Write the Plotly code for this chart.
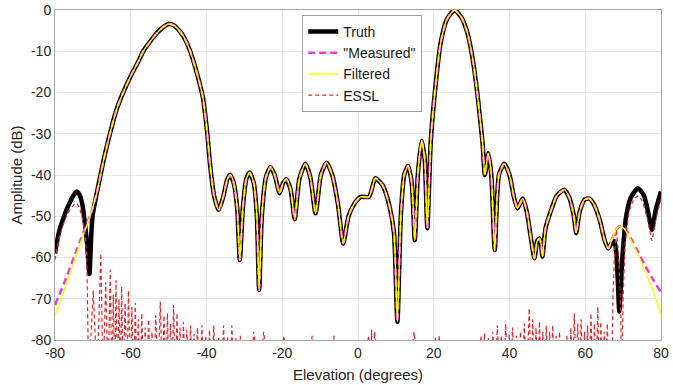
import plotly.graph_objects as go

# ---------------- data ----------------
truth_x = [-80, -79, -78, -77, -76, -75, -74.3, -73.5, -72.8, -72.2, -71.6, -70.9, -70.5, -70.1,
           -69, -67.3, -65.5, -63.7, -62, -60, -58, -56.7, -55, -53.1, -51.5, -50, -48.5, -47, -46,
           -44.5, -42.5, -41, -39.9, -39, -38, -36.8, -35.5, -34.5, -33.7, -32.8, -31.9, -31.2,
           -30.4, -29.5, -28.6, -27.5, -26.7, -26.1, -25.4, -24.3, -23.1, -22, -20.7, -19.8, -18.9,
           -17.8, -16.7, -15.5, -13.9, -12.6, -11.2, -9.8, -8.3, -6.8, -5.3, -3.9, -2.5, -1, 0.7,
           2.9, 4.6, 6.5, 8.3, 9.5, 10.4, 11.3, 12.2, 13.2, 14.2, 15.0, 15.8, 16.8, 17.6, 18.3,
           19.2, 20.1, 21.8, 23.5, 25.5, 27.3, 28.9, 30.3, 31.5, 32.3, 32.9, 33.5, 34.4, 35.2, 36.1,
           37.2, 38.6, 40, 41.2, 42.1, 43.5, 44.6, 45.6, 46.6, 47.3, 47.9, 48.3, 48.7, 49.5, 51,
           52.5, 54.5, 55.8, 57, 57.6, 58.5, 59.8, 61.1, 62.5, 64, 65.1, 66.1, 67, 67.7, 68.3, 69.0,
           69.8, 70.8, 72, 73.9, 75.5, 76.6, 77.6, 78.6, 80]
truth_y = [-59, -54, -51, -48.5, -46.5, -44.8, -44, -44.8, -47, -51, -56, -64, -56, -50,
           -44.5, -37, -30, -24, -20, -16, -12.5, -10, -7.8, -5.6, -4.2, -3.4, -3.8, -5.2, -6.5,
           -9.5, -15.4, -21, -29, -38, -45, -48.5, -45, -41, -40, -42, -48, -60.6,
           -48, -41, -39.4, -42, -50, -67.9, -50, -40.5, -38.1, -40, -44.4, -42, -41,
           -43.5, -50.7, -41, -37.3, -40.5, -49.3, -40, -37, -40, -47, -56.6, -50, -47, -45.3,
           -45.3, -40.8, -42.5, -47.5, -54, -75.6, -50, -40, -37.8, -42, -55.8, -40, -31.7, -36, -52.9,
           -32, -21.8, -8.1, -2.2, 0, -1.8, -5.6, -12, -20.2, -27, -32.3, -40, -34.7, -40, -58.2,
           -40, -37.3, -40, -45.5, -48.1, -45.7, -49, -55, -60.2, -56, -55.4, -56.5, -59.8, -53, -48.5,
           -45, -43.6, -45.5, -50, -54.1, -49, -46, -45.7, -47.5, -51.5, -55.8, -57.8, -56.5, -56, -60, -73.1,
           -60, -50, -45.5, -43.2, -45, -49, -53.3, -48.5, -44]

# "Measured" and Filtered: own values at both edges, Truth values in between
meas_left_x = [-80, -77.5, -75, -72.5, -70.4]
meas_left_y = [-71.5, -66, -60, -54, -49]
filt_left_x = [-80, -77.5, -75, -72.5, -70.4]
filt_left_y = [-74, -67.8, -61, -54.5, -49]
meas_right_x = [67.2, 68.2, 69.2, 70.5, 72, 74, 76, 78, 80]
meas_right_y = [-55.2, -53.2, -52.4, -53, -55.3, -58.8, -62.3, -65.5, -68.5]
filt_right_x = [67.2, 68.2, 69.2, 70.5, 72, 74, 76, 78, 80]
filt_right_y = [-55.2, -53.2, -52.4, -53.2, -55.8, -59.5, -63.8, -68.3, -73.5]
shared_from, shared_to = -69, 66.1

essl_x = [-80, -79, -78, -77, -76, -75, -74.3, -73.5, -72.8, -72.1, -71.6, -71.1,
          -69.9, -68.9, -67.9, -67.3, -66.6, -66.0, -65.4, -65.0, -64.6, -64.2, -63.9, -63.5,
          -63.1, -62.7, -62.4, -62.0, -61.5, -61.0, -60.6, -60.1, -59.7, -59.2, -58.8, -58.4,
          -58.0, -57.5, -57.1, -56.6, -56.2, -55.7, -55.3, -54.8, -54.4, -53.9, -53.4, -52.8,
          -52.2, -51.7, -51.2, -50.7, -50.3, -49.9, -49.5, -49.1, -48.7, -48.2, -47.8, -47.4,
          -47.0, -46.5, -46.1, -45.6, -45.2, -44.7, -44.2, -43.7, -43.3, -42.8, -42.4, -41.8,
          -41.2, -40.7, -40.2, -39.7, -39.2, -38.6, -38.1, -37.4, -36.8, -36.1, -35.5, -34.9,
          -34.4, -33.8, -33.3, -32.7, -32.2, -31.6, -31.1, -30.3, -29.5, -28.5, -27.5, -26.2,
          -24.9, -23.4, -22, -20.8, -19.6, -17.8, -16, -14, -12.1, -10.5, -9, -7.7, -6.4, -4.7,
          -3, -1.5, 0, 1.4, 2.8, 3.2, 3.6, 4.0, 4.4, 5.0, 5.5, 7.2, 9, 10.5, 12, 13.4, 14.8,
          16.2, 17.5, 19, 20.4, 20.9, 21.4, 22.7, 24, 25.5, 27, 28.5, 30, 31.2, 32.5, 33.0,
          33.4, 33.9, 34.4, 35.0, 35.6, 36.2, 36.8, 37.3, 37.8, 38.4, 39, 39.5, 39.9, 40.4,
          40.8, 41.3, 41.8, 42.4, 42.9, 43.4, 43.9, 44.6, 45.2, 45.7, 46.1, 46.6, 47.0, 47.5,
          47.9, 48.4, 48.8, 49.3, 49.7, 50.2, 50.6, 51.0, 51.4, 51.9, 52.3, 52.8, 53.2, 53.7,
          54.2, 54.7, 55.2, 55.7, 56.2, 56.7, 57.1, 57.6, 58.0, 58.5, 58.9, 59.4, 59.8, 60.2,
          60.6, 61.1, 61.5, 62.0, 62.4, 62.9, 63.3, 63.7, 64.1, 64.6, 65.0, 65.4, 65.8, 66.4,
          67.0, 67.3, 67.7, 68.2, 68.7, 69.3, 69.6, 70.0, 70.5, 71.5, 72.8, 74, 75.2, 76.5,
          77.6, 78.7, 80]
essl_y = [-60.6, -55.5, -52.5, -50, -48.3, -47.2, -46.8, -48, -50.5, -53.5, -60, -90,
          -68, -90, -59, -90, -66, -90, -63, -90, -69, -90, -65.5, -90,
          -70, -90, -67, -90, -71, -90, -68, -90, -72, -90, -71, -90,
          -75, -90, -73.5, -90, -77, -90, -75, -90, -78, -90, -74, -90,
          -70.7, -90, -74, -90, -73.5, -90, -76, -90, -71.5, -90, -73.5, -90,
          -77, -90, -75.6, -90, -77.5, -90, -76.5, -90, -78.5, -90, -77, -90,
          -76.4, -90, -79, -90, -77.5, -90, -76.5, -90, -79.5, -90, -76.5, -90,
          -79, -90, -76.5, -90, -79.5, -90, -79, -90, -81, -90, -78, -90,
          -78, -90, -82, -90, -79, -90, -82, -90, -79, -90, -82, -90, -79, -90,
          -83, -90, -85, -90, -79, -90, -77.5, -90, -78, -90, -82, -90, -84, -90, -82, -90, -78,
          -90, -83, -90, -79.5, -90, -79, -90, -83, -90, -82, -90, -81, -90, -79, -90,
          -78.4, -90, -79.5, -90, -78, -90, -76.4, -90, -79, -90, -76, -90, -78.5, -90,
          -77, -90, -79, -90, -78, -90, -76, -90, -72.3, -90, -75, -90, -77, -90,
          -75.5, -90, -78, -90, -76.5, -90, -78, -90, -76.4, -90, -79, -90, -78, -90,
          -80.5, -90, -79, -90, -77, -90, -73.5, -90, -76, -90, -75, -90, -78, -90,
          -76.5, -90, -73.5, -90, -76, -90, -71.9, -90, -75.6, -90, -78, -90, -76, -90,
          -90, -70, -60, -53.3, -58, -70, -90, -70, -57, -49, -45.8, -45, -46.5, -51,
          -56, -50.5, -45.8]

x_ticks = [-80, -60, -40, -20, 0, 20, 40, 60, 80]
y_ticks = [0, -10, -20, -30, -40, -50, -60, -70, -80]
x_tick_text = ["-80", "-60", "-40", "-20", "0", "20", "40", "60", "80"]
y_tick_text = ["0", "-10", "-20", "-30", "-40", "-50", "-60", "-70", "-80"]

# ---------------- build series ----------------
mid = [(x, y) for x, y in zip(truth_x, truth_y) if shared_from <= x <= shared_to]
mid_x = [p[0] for p in mid]
mid_y = [p[1] for p in mid]
meas_x = meas_left_x + mid_x + meas_right_x
meas_y = meas_left_y + mid_y + meas_right_y
filt_x = filt_left_x + mid_x + filt_right_x
filt_y = filt_left_y + mid_y + filt_right_y

fig = go.Figure()
fig.add_trace(go.Scatter(x=truth_x, y=truth_y, name="Truth", mode="lines",
                         line=dict(color="black", width=4.5, shape="spline", smoothing=0.6)))
fig.add_trace(go.Scatter(x=meas_x, y=meas_y, name='"Measured"', mode="lines",
                         line=dict(color="#f03cdc", width=2.6, dash="7px,4px", shape="spline", smoothing=0.6)))
fig.add_trace(go.Scatter(x=filt_x, y=filt_y, name="Filtered", mode="lines",
                         line=dict(color="#ffff00", width=1.4, shape="spline", smoothing=0.6)))
fig.add_trace(go.Scatter(x=essl_x, y=essl_y, name="ESSL", mode="lines",
                         line=dict(color="#e8242c", width=1.2, dash="4px,3px")))

font_family = "Liberation Sans, Arial, sans-serif"
fig.update_layout(
    width=673, height=385,
    margin=dict(l=55, r=12, t=10, b=45, autoexpand=False),
    paper_bgcolor="white", plot_bgcolor="white",
    font=dict(family=font_family, size=14, color="#262626"),
    showlegend=True,
    legend=dict(x=0.408, y=0.985, xanchor="left", yanchor="top",
                bgcolor="white", bordercolor="#a0a0a0", borderwidth=1,
                font=dict(size=14, color="#1a1a1a"), tracegroupgap=0,
                itemwidth=30),
)
fig.update_xaxes(range=[-80, 80], tickvals=x_ticks, ticktext=x_tick_text,
                 showgrid=True, gridcolor="#e8e8e8", gridwidth=1,
                 showline=True, linecolor="#a6a6a6", linewidth=1, mirror=True,
                 zeroline=False, ticks="", automargin=False,
                 title=dict(text="Elevation (degrees)", standoff=9, font=dict(size=15)),
                 tickfont=dict(size=14))
fig.update_yaxes(range=[-80, 0], tickvals=y_ticks, ticktext=y_tick_text,
                 showgrid=True, gridcolor="#e8e8e8", gridwidth=1,
                 showline=True, linecolor="#a6a6a6", linewidth=1, mirror=True,
                 zeroline=False, ticks="", automargin=False,
                 title=dict(text="Amplitude (dB)", standoff=4, font=dict(size=15)),
                 tickfont=dict(size=14))

# remove the page's default 8 px body margin so the figure fills the window exactly
fig.write_html("out.html", config={"displayModeBar": False},
               post_script="document.body.style.margin='0px';")
